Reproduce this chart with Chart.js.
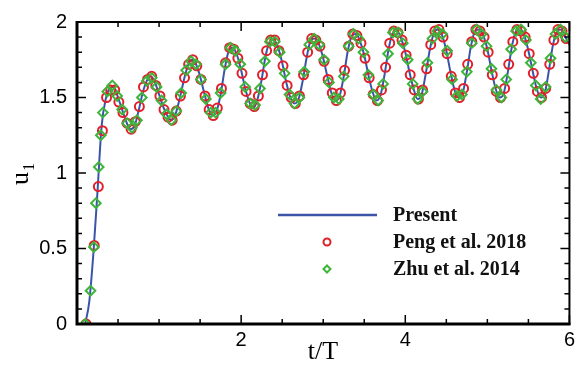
<!DOCTYPE html>
<html>
<head>
<meta charset="utf-8">
<script src="https://cdn.jsdelivr.net/npm/chart.js@4.4.1/dist/chart.umd.min.js"></script>
<style>
  html, body { margin: 0; padding: 0; background: #fff; }
  #wrap { width: 579px; height: 365px; }
</style>
</head>
<body>
<div id="wrap"><canvas id="myChart" width="579" height="365"></canvas></div>
<script>
// Present (solid line)
const presentT = [0.10, 0.15, 0.20, 0.25, 0.30, 0.35, 0.40, 0.45, 0.50, 0.55, 0.60, 0.65, 0.70, 0.75, 0.80, 0.85, 0.90, 0.95,
  1.00, 1.05, 1.10, 1.15, 1.20, 1.25, 1.30, 1.35, 1.40, 1.45, 1.50, 1.55, 1.60, 1.65, 1.70, 1.75, 1.80, 1.85, 1.90, 1.95,
  2.00, 2.05, 2.10, 2.15, 2.20, 2.25, 2.30, 2.35, 2.40, 2.45, 2.50, 2.55, 2.60, 2.65, 2.70, 2.75, 2.80, 2.85, 2.90, 2.95,
  3.00, 3.05, 3.10, 3.15, 3.20, 3.25, 3.30, 3.35, 3.40, 3.45, 3.50, 3.55, 3.60, 3.65, 3.70, 3.75, 3.80, 3.85, 3.90, 3.95,
  4.00, 4.05, 4.10, 4.15, 4.20, 4.25, 4.30, 4.35, 4.40, 4.45, 4.50, 4.55, 4.60, 4.65, 4.70, 4.75, 4.80, 4.85, 4.90, 4.95,
  5.00, 5.05, 5.10, 5.15, 5.20, 5.25, 5.30, 5.35, 5.40, 5.45, 5.50, 5.55, 5.60, 5.65, 5.70, 5.75, 5.80, 5.85, 5.90, 5.95, 6.00];
const presentU = [0.00, 0.15, 0.47, 0.88, 1.31, 1.49, 1.56, 1.57, 1.50, 1.42, 1.34, 1.29, 1.31, 1.41, 1.53, 1.61, 1.64, 1.60,
  1.52, 1.44, 1.38, 1.35, 1.39, 1.49, 1.61, 1.71, 1.75, 1.72, 1.64, 1.53, 1.43, 1.38, 1.41, 1.52, 1.69, 1.81, 1.83, 1.78,
  1.68, 1.56, 1.47, 1.43, 1.49, 1.62, 1.78, 1.87, 1.88, 1.83, 1.73, 1.60, 1.50, 1.46, 1.49, 1.61, 1.77, 1.88, 1.89, 1.85,
  1.76, 1.64, 1.53, 1.48, 1.51, 1.64, 1.81, 1.91, 1.92, 1.87, 1.78, 1.65, 1.54, 1.48, 1.52, 1.66, 1.83, 1.93, 1.94, 1.89,
  1.80, 1.67, 1.56, 1.49, 1.52, 1.66, 1.82, 1.93, 1.95, 1.91, 1.81, 1.67, 1.55, 1.50, 1.53, 1.67, 1.84, 1.94, 1.95, 1.91,
  1.82, 1.68, 1.56, 1.50, 1.53, 1.67, 1.84, 1.94, 1.95, 1.91, 1.81, 1.68, 1.56, 1.50, 1.53, 1.68, 1.85, 1.94, 1.95, 1.90, 1.85];

// Peng et al. 2018 (circles)
const pengT = [0.11, 0.21, 0.26, 0.31, 0.36, 0.41, 0.46, 0.51, 0.56, 0.61, 0.66, 0.71, 0.76, 0.81, 0.86, 0.91, 0.96,
  1.01, 1.06, 1.11, 1.16, 1.21, 1.26, 1.31, 1.36, 1.41, 1.46, 1.51, 1.56, 1.61, 1.66, 1.71, 1.76, 1.81, 1.86, 1.91, 1.96,
  2.01, 2.06, 2.11, 2.16, 2.21, 2.26, 2.31, 2.36, 2.41, 2.46, 2.51, 2.56, 2.61, 2.66, 2.71, 2.76, 2.81, 2.86, 2.91, 2.96,
  3.01, 3.06, 3.11, 3.16, 3.21, 3.26, 3.31, 3.36, 3.41, 3.46, 3.51, 3.56, 3.61, 3.66, 3.71, 3.76, 3.81, 3.86, 3.91, 3.96,
  4.01, 4.06, 4.11, 4.16, 4.21, 4.26, 4.31, 4.36, 4.41, 4.46, 4.51, 4.56, 4.61, 4.66, 4.71, 4.76, 4.81, 4.86, 4.91, 4.96,
  5.01, 5.06, 5.11, 5.16, 5.21, 5.26, 5.31, 5.36, 5.41, 5.46, 5.51, 5.56, 5.61, 5.66, 5.71, 5.76, 5.81, 5.86, 5.91, 5.96];
const pengU = [0.00, 0.52, 0.91, 1.28, 1.50, 1.55, 1.55, 1.47, 1.40, 1.33, 1.29, 1.34, 1.44, 1.57, 1.62, 1.64, 1.58,
  1.51, 1.42, 1.37, 1.35, 1.41, 1.51, 1.63, 1.72, 1.75, 1.71, 1.62, 1.51, 1.42, 1.38, 1.43, 1.56, 1.73, 1.83, 1.82, 1.76,
  1.66, 1.54, 1.46, 1.44, 1.51, 1.65, 1.81, 1.88, 1.88, 1.81, 1.71, 1.58, 1.50, 1.46, 1.51, 1.65, 1.80, 1.89, 1.88, 1.84,
  1.74, 1.62, 1.53, 1.48, 1.53, 1.68, 1.84, 1.92, 1.91, 1.86, 1.76, 1.63, 1.52, 1.48, 1.55, 1.70, 1.86, 1.94, 1.93, 1.88,
  1.78, 1.65, 1.55, 1.49, 1.55, 1.69, 1.85, 1.94, 1.95, 1.90, 1.79, 1.64, 1.53, 1.50, 1.56, 1.72, 1.87, 1.95, 1.94, 1.90,
  1.80, 1.65, 1.54, 1.50, 1.56, 1.72, 1.87, 1.95, 1.94, 1.90, 1.79, 1.66, 1.54, 1.50, 1.56, 1.72, 1.88, 1.95, 1.94, 1.89];

// Zhu et al. 2014 (diamonds)
const zhuT = [0.10, 0.165, 0.205, 0.23, 0.265, 0.29, 0.315, 0.37, 0.43, 0.49, 0.55, 0.61, 0.67, 0.73, 0.79, 0.85, 0.91, 0.97,
  1.03, 1.09, 1.15, 1.21, 1.27, 1.33, 1.39, 1.45, 1.51, 1.57, 1.63, 1.69, 1.75, 1.81, 1.87, 1.93, 1.99,
  2.05, 2.11, 2.17, 2.23, 2.29, 2.35, 2.41, 2.47, 2.53, 2.59, 2.65, 2.71, 2.77, 2.83, 2.89, 2.95,
  3.01, 3.07, 3.13, 3.19, 3.25, 3.31, 3.37, 3.43, 3.49, 3.55, 3.61, 3.67, 3.73, 3.79, 3.85, 3.91, 3.97,
  4.03, 4.09, 4.15, 4.21, 4.27, 4.33, 4.39, 4.45, 4.51, 4.57, 4.63, 4.69, 4.75, 4.81, 4.87, 4.93, 4.99,
  5.05, 5.11, 5.17, 5.23, 5.29, 5.35, 5.41, 5.47, 5.53, 5.59, 5.65, 5.71, 5.77, 5.83, 5.89, 5.95];
const zhuU = [0.00, 0.22, 0.51, 0.80, 1.04, 1.25, 1.40, 1.54, 1.58, 1.51, 1.42, 1.33, 1.30, 1.35, 1.50, 1.61, 1.63, 1.57,
  1.48, 1.39, 1.35, 1.41, 1.53, 1.68, 1.74, 1.72, 1.62, 1.49, 1.40, 1.40, 1.53, 1.72, 1.83, 1.81, 1.72,
  1.57, 1.46, 1.45, 1.56, 1.74, 1.87, 1.87, 1.80, 1.66, 1.52, 1.46, 1.50, 1.67, 1.85, 1.89, 1.85,
  1.75, 1.60, 1.50, 1.49, 1.64, 1.84, 1.92, 1.89, 1.80, 1.65, 1.52, 1.48, 1.59, 1.79, 1.93, 1.93, 1.86,
  1.75, 1.59, 1.49, 1.54, 1.73, 1.89, 1.94, 1.92, 1.81, 1.62, 1.51, 1.52, 1.67, 1.86, 1.95, 1.92, 1.84,
  1.69, 1.55, 1.50, 1.62, 1.82, 1.94, 1.95, 1.88, 1.73, 1.58, 1.49, 1.57, 1.76, 1.92, 1.95, 1.90];

const xMajor = [0, 2, 4, 6];
const xMinor = [0.5, 1, 1.5, 2.5, 3, 3.5, 4.5, 5, 5.5];
const yMajor = [0, 0.5, 1, 1.5, 2];
const yMinor = [0.1, 0.2, 0.3, 0.4, 0.6, 0.7, 0.8, 0.9, 1.1, 1.2, 1.3, 1.4, 1.6, 1.7, 1.8, 1.9];

const seriesNames = ["Present", "Peng et al. 2018", "Zhu et al. 2014"];

const BLUE = "#3b54a8";
const RED = "#e0212b";
const GREEN = "#3fb43a";

const toPoints = (xs, ys) => xs.map((x, i) => ({ x: x, y: ys[i] }));

// frame, inward ticks, axis titles and the legend box
const decorations = {
  id: "decorations",
  afterDraw(chart) {
    const ctx = chart.ctx;
    const a = chart.chartArea;
    const xs = chart.scales.x, ys = chart.scales.y;
    ctx.save();
    ctx.strokeStyle = "#000";

    // ticks
    ctx.lineWidth = 1.5;
    ctx.beginPath();
    const xt = (v, len) => {
      const p = xs.getPixelForValue(v);
      ctx.moveTo(p, a.bottom); ctx.lineTo(p, a.bottom - len);
      ctx.moveTo(p, a.top); ctx.lineTo(p, a.top + len);
    };
    const yt = (v, len) => {
      const p = ys.getPixelForValue(v);
      ctx.moveTo(a.left, p); ctx.lineTo(a.left + len, p);
      ctx.moveTo(a.right, p); ctx.lineTo(a.right - len, p);
    };
    xMajor.forEach(v => xt(v, 9));
    xMinor.forEach(v => xt(v, 5));
    yMajor.forEach(v => yt(v, 9));
    yMinor.forEach(v => yt(v, 5));
    ctx.stroke();

    // frame
    ctx.lineWidth = 2;
    ctx.strokeRect(a.left, a.top, a.right - a.left, a.bottom - a.top);
    ctx.lineWidth = 3;
    ctx.beginPath();
    ctx.moveTo(a.left, a.top - 1); ctx.lineTo(a.left, a.bottom);
    ctx.lineTo(a.right + 1, a.bottom);
    ctx.stroke();

    // axis titles
    ctx.fillStyle = "#000";
    ctx.font = "26px 'Liberation Serif'";
    ctx.textAlign = "center";
    ctx.textBaseline = "alphabetic";
    ctx.fillText("t/T", 323, 359);

    ctx.save();
    ctx.translate(28, 185);
    ctx.rotate(-Math.PI / 2);
    ctx.textAlign = "left";
    ctx.font = "26px 'Liberation Serif'";
    ctx.fillText("u", 0, 0);
    ctx.font = "16px 'Liberation Serif'";
    ctx.fillText("1", 14, 6);
    ctx.restore();

    // legend
    ctx.strokeStyle = BLUE;
    ctx.lineWidth = 2.5;
    ctx.beginPath();
    ctx.moveTo(278, 215); ctx.lineTo(377, 215);
    ctx.stroke();

    ctx.lineWidth = 2;
    ctx.strokeStyle = RED;
    ctx.beginPath();
    ctx.arc(327, 242, 3.5, 0, Math.PI * 2);
    ctx.stroke();

    ctx.strokeStyle = GREEN;
    ctx.beginPath();
    ctx.moveTo(327, 265.5); ctx.lineTo(330.5, 269); ctx.lineTo(327, 272.5); ctx.lineTo(323.5, 269);
    ctx.closePath();
    ctx.stroke();

    ctx.fillStyle = "#111";
    ctx.font = "bold 20px 'Liberation Serif'";
    ctx.textAlign = "left";
    ctx.textBaseline = "middle";
    ctx.fillText(seriesNames[0], 393, 216);
    ctx.fillText(seriesNames[1], 393, 243);
    ctx.fillText(seriesNames[2], 393, 270);
    ctx.restore();
  }
};

const ctx = document.getElementById("myChart");
new Chart(ctx, {
  type: "scatter",
  data: {
    datasets: [
      {
        label: seriesNames[2],
        data: toPoints(zhuT, zhuU),
        pointStyle: "rectRot",
        pointRadius: 4.8,
        pointBorderWidth: 2,
        pointBorderColor: GREEN,
        pointBackgroundColor: "rgba(0,0,0,0)",
        showLine: false
      },
      {
        label: seriesNames[1],
        data: toPoints(pengT, pengU),
        pointStyle: "circle",
        pointRadius: 4.5,
        pointBorderWidth: 2,
        pointBorderColor: RED,
        pointBackgroundColor: "rgba(0,0,0,0)",
        showLine: false
      },
      {
        label: seriesNames[0],
        data: toPoints(presentT, presentU),
        showLine: true,
        borderColor: BLUE,
        borderWidth: 2,
        pointRadius: 0,
        cubicInterpolationMode: "monotone",
        fill: false
      }
    ]
  },
  options: {
    responsive: false,
    animation: false,
    devicePixelRatio: 1,
    layout: { padding: { left: 0, top: 17, right: 7, bottom: 0 } },
    plugins: {
      legend: { display: false },
      tooltip: { enabled: false }
    },
    scales: {
      x: {
        type: "linear",
        min: 0,
        max: 6,
        afterFit: (s) => { s.height = 41; },
        grid: { display: false, drawTicks: false },
        border: { display: false },
        ticks: {
          stepSize: 2,
          padding: 4,
          maxRotation: 0,
          color: "#000",
          font: { family: "'Liberation Sans'", size: 20 },
          callback: (v) => (v === 0 ? "" : String(v))
        }
      },
      y: {
        min: 0,
        max: 2,
        afterFit: (s) => { s.width = 77; },
        grid: { display: false, drawTicks: false },
        border: { display: false },
        ticks: {
          stepSize: 0.5,
          padding: 10,
          color: "#000",
          font: { family: "'Liberation Sans'", size: 20 },
          callback: (v) => String(v)
        }
      }
    }
  },
  plugins: [decorations]
});
</script>
</body>
</html>
